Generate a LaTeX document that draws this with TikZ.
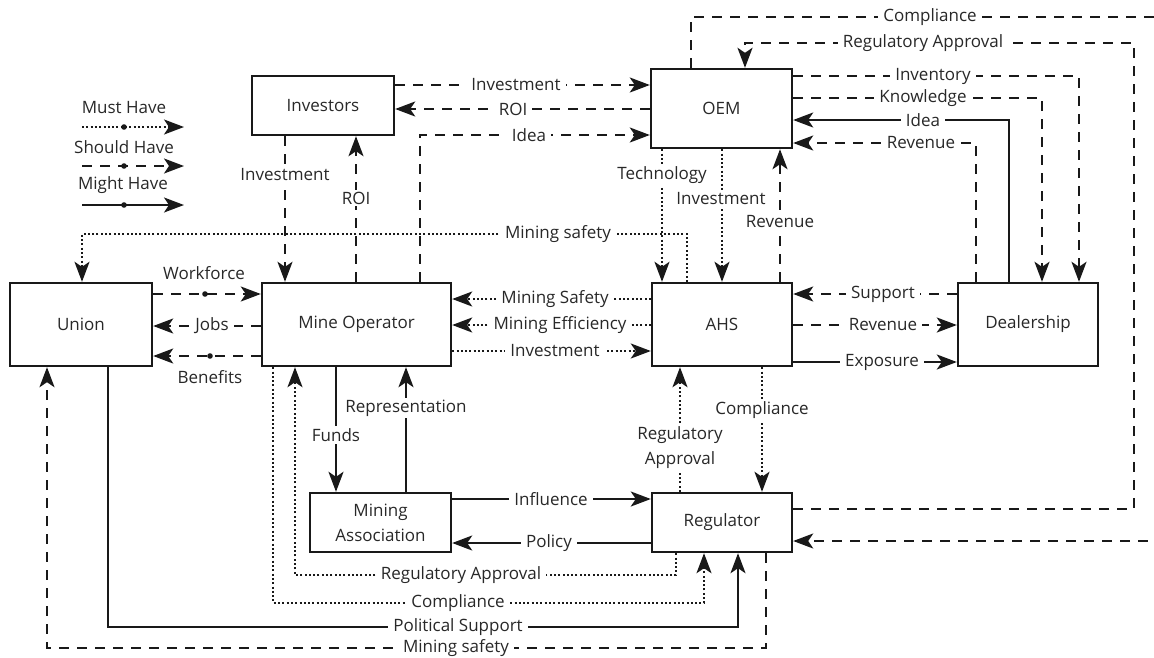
\documentclass[tikz,border=0pt]{standalone}
\usepackage{fontspec}
\setmainfont{Open Sans}
\usetikzlibrary{arrows.meta}
\definecolor{linec}{RGB}{25,25,25}
\definecolor{textc}{RGB}{40,40,40}
\begin{document}
\begin{tikzpicture}[x=1pt,y=-1pt,
  every node/.style={text=textc,font=\fontsize{17}{25}\selectfont},
  box/.style={draw=linec,line width=2.4pt,inner sep=0pt,align=center},
  lbl/.style={fill=white,inner xsep=5pt,inner ysep=2pt,align=center},
  must/.style={draw=linec,line width=2pt,dash pattern=on 2pt off 2.3pt},
  should/.style={draw=linec,line width=2.1pt,dash pattern=on 10pt off 8pt},
  might/.style={draw=linec,line width=2.1pt},
  arr/.style={-{Stealth[length=20pt,width=15pt,inset=5pt]}}]
\useasboundingbox (0,0) rectangle (1154,657);

% ---------- boxes ----------
\node[box,minimum width=142pt,minimum height=59pt] (inv) at (323,105.5) {Investors};
\node[box,minimum width=141pt,minimum height=79pt] (oem) at (721.5,108.5) {OEM};
\node[box,minimum width=142pt,minimum height=83pt] (union) at (81,324.5) {Union};
\node[box,minimum width=189pt,minimum height=83pt] (mo) at (356.5,324.5) {Mine Operator};
\node[box,minimum width=140pt,minimum height=83pt] (ahs) at (722,324.5) {AHS};
\node[box,minimum width=140pt,minimum height=83pt] (deal) at (1028,324.5) {Dealership};
\node[box,minimum width=141pt,minimum height=59pt] (ma) at (380.5,522.5) {Mining\\Association};
\node[box,minimum width=140pt,minimum height=59pt] (reg) at (722,522.5) {Regulator};

% ---------- legend ----------
\node (lg1) at (124,108) {Must Have};
\node (lg2) at (124,147) {Should Have};
\node (lg3) at (123,185) {Might Have};
\coordinate (la1) at (82,127); \coordinate (lb1) at (184,127);
\coordinate (la2) at (82,166); \coordinate (lb2) at (184,166);
\coordinate (la3) at (82,205); \coordinate (lb3) at (184,205);
\draw[must,arr] (la1) -- (lb1);
\draw[should,arr] (la2) -- (lb2);
\draw[might,arr] (la3) -- (lb3);
\fill[linec] (124,127) circle (2.8pt) (124,166) circle (2.8pt) (124,205) circle (2.8pt);

% ---------- Investors / OEM / Mine Operator ----------
\draw[should,arr] (inv.east |- 0,85) -- (oem.west |- 0,85);
\node[lbl] (t1) at (516,85) {Investment};
\draw[should,arr] (oem.west |- 0,109) -- (inv.east |- 0,109);
\node[lbl] (t2) at (513,109) {ROI};
\draw[should,arr] (mo.north -| 420,0) |- (oem.west |- 0,135);
\node[lbl] (t3) at (529,135) {Idea};
\draw[should,arr] (inv.south -| 285,0) -- (mo.north -| 285,0);
\node[lbl] (t4) at (285,175) {Investment};
\draw[should,arr] (mo.north -| 356,0) -- (inv.south -| 356,0);
\node[lbl] (t5) at (356,198) {ROI};

% ---------- OEM / AHS ----------
\draw[must,arr] (oem.south -| 662,0) -- (ahs.north -| 662,0);
\node[lbl] (t6) at (662,175) {Technology};
\draw[must,arr] (oem.south -| 722,0) -- (ahs.north -| 722,0);
\node[lbl] (t7) at (721,199) {Investment};
\draw[should,arr] (ahs.north -| 780,0) -- (oem.south -| 780,0);
\node[lbl] (t8) at (780,222) {Revenue};

% ---------- Mining safety (AHS -> Union) ----------
\draw[must,arr] (ahs.north -| 687,0) |- (82,234) -- (union.north -| 82,0);
\node[lbl] (t9) at (558,234) {Mining safety};

% ---------- Union / Mine Operator ----------
\draw[should,arr] (union.east |- 0,294) -- (mo.west |- 0,294);
\fill[linec] (205,294) circle (2.8pt);
\node (t10) at (204,273) {Workforce};
\draw[should,arr] (mo.west |- 0,326) -- (union.east |- 0,326);
\node[lbl] (t11) at (212,326) {Jobs};
\draw[should,arr] (mo.west |- 0,356) -- (union.east |- 0,356);
\fill[linec] (210,356) circle (2.8pt);
\node (t12) at (210,377) {Benefits};

% ---------- Mine Operator / AHS ----------
\draw[must,arr] (ahs.west |- 0,299) -- (mo.east |- 0,299);
\node[lbl] (t13) at (555,299) {Mining Safety};
\draw[must,arr] (ahs.west |- 0,325) -- (mo.east |- 0,325);
\node[lbl] (t14) at (560,325) {Mining Efficiency};
\draw[must,arr] (mo.east |- 0,351) -- (ahs.west |- 0,351);
\node[lbl] (t15) at (555,351) {Investment};

% ---------- AHS / Dealership ----------
\draw[should,arr] (deal.west |- 0,294) -- (ahs.east |- 0,294);
\node[lbl] (t16) at (883,294) {Support};
\draw[should,arr] (ahs.east |- 0,325) -- (deal.west |- 0,325);
\node[lbl] (t17) at (883,325) {Revenue};
\draw[might,arr] (ahs.east |- 0,362) -- (deal.west |- 0,362);
\node[lbl] (t18) at (882,362) {Exposure};

% ---------- Dealership / OEM ----------
\draw[should,arr] (deal.north -| 976,0) |- (oem.east |- 0,143);
\node[lbl] (t19) at (921,143) {Revenue};
\draw[might,arr] (deal.north -| 1009,0) |- (oem.east |- 0,120);
\node[lbl] (t20) at (923,120) {Idea};
\draw[should,arr] (oem.east |- 0,98) -| (deal.north -| 1042,0);
\node[lbl] (t21) at (923,98) {Knowledge};
\draw[should,arr] (oem.east |- 0,76) -| (deal.north -| 1079,0);
\node[lbl] (t22) at (933,76) {Inventory};

% ---------- Regulator / OEM ----------
\draw[should,arr] (reg.east |- 0,509) -| (1134,43) -| (oem.north -| 745,0);
\node[lbl] (t23) at (923,43) {Regulatory Approval};
\draw[should,arr] (oem.north -| 691,0) |- (1172,17) |- (reg.east |- 0,541);
\node[lbl] (t24) at (930,17) {Compliance};

% ---------- Mine Operator / Mining Association ----------
\draw[might,arr] (mo.south -| 336,0) -- (ma.north -| 336,0);
\node[lbl] (t25) at (336,435) {Funds};
\draw[might,arr] (ma.north -| 406,0) -- (mo.south -| 406,0);
\node[lbl] (t26) at (406,408) {Representation};

% ---------- Mining Association / Regulator ----------
\draw[might,arr] (ma.east |- 0,499) -- (reg.west |- 0,499);
\node[lbl] (t27) at (551,499) {Influence};
\draw[might,arr] (reg.west |- 0,543) -- (ma.east |- 0,543);
\node[lbl] (t28) at (549,543) {Policy};

% ---------- AHS / Regulator ----------
\draw[must,arr] (reg.north -| 680,0) -- (ahs.south -| 680,0);
\node[lbl] (t29) at (680,447.5) {Regulatory\\Approval};
\draw[must,arr] (ahs.south -| 762,0) -- (reg.north -| 762,0);
\node[lbl] (t30) at (762,410) {Compliance};

% ---------- bottom loops ----------
\draw[must,arr] (reg.south -| 676,0) -- (676,575) -| (mo.south -| 295,0);
\node[lbl] (t31) at (461,575) {Regulatory Approval};
\draw[must,arr] (mo.south -| 273,0) -- (273,603) -| (reg.south -| 704,0);
\node[lbl] (t32) at (458,603) {Compliance};
\draw[might,arr] (union.south -| 108,0) -- (108,627) -| (reg.south -| 738,0);
\node[lbl] (t33) at (458,627) {Political Support};
\draw[should,arr] (reg.south -| 766,0) -- (766,648) -| (union.south -| 47,0);
\node[lbl] (t34) at (456,648) {Mining safety};
\end{tikzpicture}
\end{document}
